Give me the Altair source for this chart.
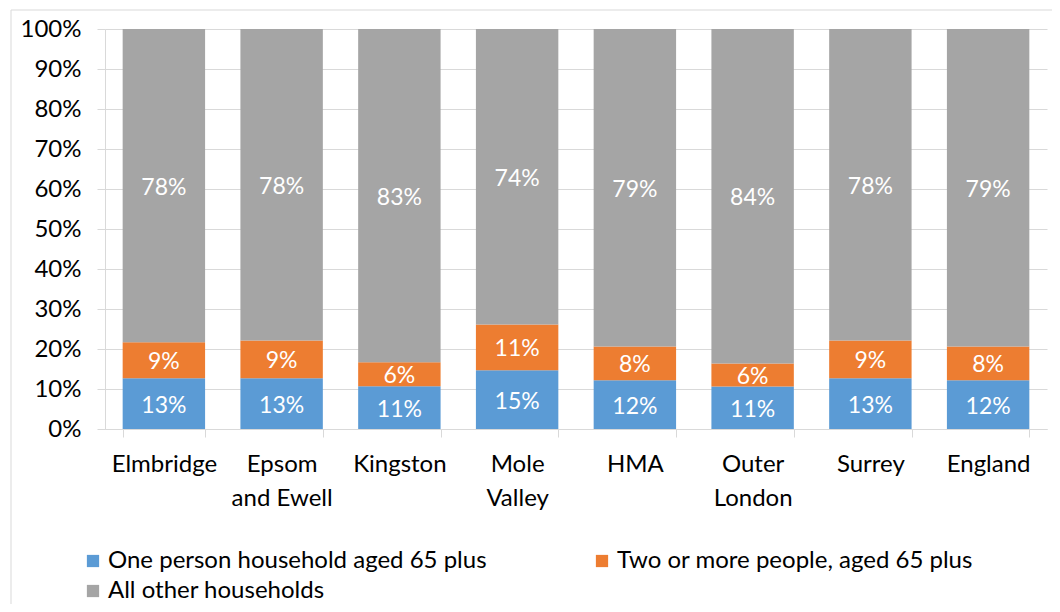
import altair as alt
import pandas as pd

categories = ["Elmbridge", "Epsom and Ewell", "Kingston", "Mole Valley",
              "HMA", "Outer London", "Surrey", "England"]
series = ["One person household aged 65 plus",
          "Two or more people, aged 65 plus",
          "All other households"]
one_person = [12.7, 12.7, 10.7, 14.7, 12.2, 10.6, 12.7, 12.2]
two_plus = [9.0, 9.4, 6.0, 11.4, 8.4, 5.8, 9.4, 8.4]
all_other = [78.3, 77.9, 83.3, 73.9, 79.4, 83.6, 77.9, 79.4]
colors = ["#5B9BD5", "#ED7D31", "#A5A5A5"]
y_ticks = [0, 10, 20, 30, 40, 50, 60, 70, 80, 90, 100]

rows = []
for i, c in enumerate(categories):
    for k, (s, vals) in enumerate(zip(series, [one_person, two_plus, all_other])):
        rows.append({"area": c, "series": s, "order": k, "value": vals[i]})
df = pd.DataFrame(rows)

FONT = "Lato"
FS = 24

x_axis = alt.Axis(labelAngle=0, labelFontSize=FS, labelFont=FONT, labelColor="#000000",
                  labelPadding=15, labelLineHeight=34, tickBand="extent", tickSize=8,
                  grid=False, domainColor="#d9d9d9", tickColor="#d9d9d9",
                  labelExpr="indexof(datum.label, ' ') > 0 ? [slice(datum.label, 0, indexof(datum.label, ' ')), slice(datum.label, indexof(datum.label, ' ') + 1)] : datum.label")
x_scale = alt.Scale(paddingInner=0.3, paddingOuter=0.15)
y_axis = alt.Axis(values=y_ticks, labelExpr="datum.value + '%'", labelFontSize=FS,
                  labelFont=FONT, labelColor="#000000", labelPadding=16, tickSize=8,
                  labelOverlap=False,
                  gridColor="#d9d9d9", domainColor="#d9d9d9", tickColor="#d9d9d9")
y_scale = alt.Scale(domain=[0, 100], nice=False)

base = alt.Chart(df).transform_stack(
    stack="value", groupby=["area"], as_=["v0", "v1"],
    sort=[alt.SortField("order", order="ascending")]
).transform_calculate(
    mid="(datum.v0 + datum.v1) / 2",
    lab="format(datum.value, '.0f') + '%'"
)

bars = base.mark_bar().encode(
    x=alt.X("area:N", sort=categories, title=None, scale=x_scale, axis=x_axis),
    y=alt.Y("v0:Q", title=None, scale=y_scale, axis=y_axis),
    y2="v1:Q",
    color=alt.Color("series:N", sort=series,
                    scale=alt.Scale(domain=series, range=colors),
                    legend=alt.Legend(title=None, orient="none", legendX=-24, legendY=520,
                                      direction="horizontal",
                                      columns=2, columnPadding=103, rowPadding=6,
                                      symbolType="square", symbolSize=150, symbolStrokeWidth=0,
                                      labelFont=FONT, labelFontSize=FS, labelColor="#000000",
                                      labelLimit=600, symbolOffset=0, labelOffset=3)),
    order=alt.Order("order:Q")
)

labels = base.mark_text(color="white", font=FONT, fontSize=23, dy=2).encode(
    x=alt.X("area:N", sort=categories, title=None, scale=x_scale, axis=x_axis),
    y=alt.Y("mid:Q", title=None, scale=y_scale, axis=y_axis),
    text="lab:N"
)

frame_top = alt.Chart(pd.DataFrame({"a": [0]})).mark_rule(color="#d9d9d9", strokeWidth=1).encode(
    x=alt.value(-94), x2=alt.value(960), y=alt.value(-19))
frame_left = alt.Chart(pd.DataFrame({"a": [0]})).mark_rule(color="#d9d9d9", strokeWidth=1).encode(
    x=alt.value(-94), y=alt.value(-19), y2=alt.value(600))

chart = alt.layer(bars, labels, frame_top, frame_left).properties(
    width=942, height=400,
    autosize=alt.AutoSizeParams(type="none"),
    padding={"left": 97, "top": 21, "right": 5, "bottom": 175}
).configure_view(stroke=None)

chart.save("out.html", embed_options={"renderer": "svg", "actions": False})
